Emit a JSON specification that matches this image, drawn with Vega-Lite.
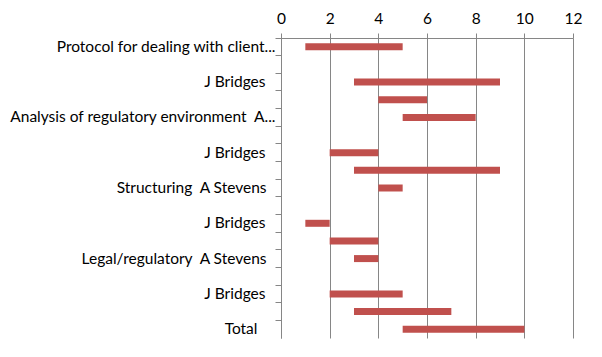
{
  "$schema": "https://vega.github.io/schema/vega-lite/v6.json",
  "autosize": {"type": "none"},
  "padding": {"left": 281, "top": 38, "right": 29, "bottom": 19},
  "width": 292,
  "height": 300,
  "background": "white",
  "data": {
    "values": [
      {"row": 0, "start": 1, "end": 5},
      {"row": 1, "start": null, "end": null},
      {"row": 2, "start": 3, "end": 9},
      {"row": 3, "start": 4, "end": 6},
      {"row": 4, "start": 5, "end": 8},
      {"row": 5, "start": null, "end": null},
      {"row": 6, "start": 2, "end": 4},
      {"row": 7, "start": 3, "end": 9},
      {"row": 8, "start": 4, "end": 5},
      {"row": 9, "start": null, "end": null},
      {"row": 10, "start": 1, "end": 2},
      {"row": 11, "start": 2, "end": 4},
      {"row": 12, "start": 3, "end": 4},
      {"row": 13, "start": null, "end": null},
      {"row": 14, "start": 2, "end": 5},
      {"row": 15, "start": 3, "end": 7},
      {"row": 16, "start": 5, "end": 10}
    ]
  },
  "mark": {"type": "bar", "color": "#C0504D", "size": 7, "cornerRadius": 0},
  "encoding": {
    "y": {
      "field": "row",
      "type": "ordinal",
      "sort": "ascending",
      "scale": {"domain": [0, 1, 2, 3, 4, 5, 6, 7, 8, 9, 10, 11, 12, 13, 14, 15, 16], "paddingInner": 0, "paddingOuter": 0},
      "axis": {
        "title": null,
        "bandPosition": 0,
        "tickSize": 6,
        "tickColor": "#868686",
        "domainColor": "#868686",
        "labelPadding": {"expr": "datum.value == 16 ? 18 : (datum.value == 8 || datum.value == 12) ? 9 : (datum.value % 4 == 2) ? 10 : 0"},
        "labelFont": "Lato",
        "labelFontSize": 15.5,
        "labelColor": "#000000",
        "labelLimit": 300,
        "labelOffset": 0,
        "grid": false,
        "labelExpr": "['Protocol for dealing with client...', '', 'J Bridges', '', 'Analysis of regulatory environment \u00a0A...', '', 'J Bridges', '', 'Structuring \u00a0A Stevens', '', 'J Bridges', '', 'Legal/regulatory \u00a0A Stevens', '', 'J Bridges', '', 'Total'][datum.value]"
      }
    },
    "x": {
      "field": "start",
      "type": "quantitative",
      "scale": {"domain": [0, 12], "nice": false},
      "axis": {
        "orient": "top",
        "title": null,
        "values": [0, 2, 4, 6, 8, 10, 12],
        "tickSize": 5,
        "tickColor": "#868686",
        "domainColor": "#868686",
        "gridColor": "#868686",
        "grid": true,
        "labelFont": "Lato",
        "labelFontSize": 15.5,
        "labelColor": "#000000",
        "labelPadding": 7,
        "labelFlush": false
      }
    },
    "x2": {"field": "end"}
  },
  "config": {"view": {"stroke": null}, "axis": {"domainWidth": 1, "tickWidth": 1, "gridWidth": 1}}
}
